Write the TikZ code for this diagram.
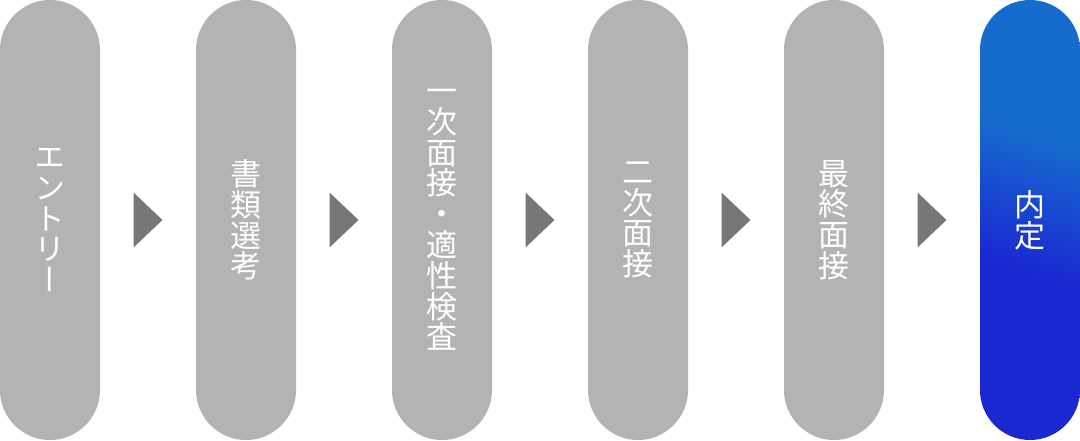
\documentclass[tikz,border=0pt]{standalone}
\usepackage{fontspec}
\newfontfamily\jpv[RawFeature=+vert]{Noto Sans CJK JP}
\usetikzlibrary{calc}
\definecolor{pillgray}{HTML}{B3B3B3}
\definecolor{trigray}{HTML}{777777}
\definecolor{naiteitop}{HTML}{166CCE}
\definecolor{naiteibot}{HTML}{1A28D2}
\pgfdeclareverticalshading{naiteishade}{100bp}{color(0bp)=(naiteibot); color(43bp)=(naiteibot); color(62bp)=(naiteitop); color(100bp)=(naiteitop)}

\begin{document}
\begin{tikzpicture}[x=1pt,y=1pt,
    pill/.style={rounded corners=50pt,minimum width=100pt,minimum height=440pt,inner sep=0pt,
        text=white,align=center,font=\jpv\fontsize{31}{30.8}\selectfont},
    grey/.style={fill=pillgray},
    tri/.style={fill=trigray}]
    \useasboundingbox (0,0) rectangle (1080,440);
    \node[pill,grey] (entry) at (50,220) {エ\\ン\\ト\\リ\\ー};
    \node[pill,grey] (shorui) at (246,220) {書\\類\\選\\考};
    \node[pill,grey] (ichiji) at (442,220) {一\\次\\面\\接\\・\\適\\性\\検\\査};
    \node[pill,grey] (niji) at (638,220) {二\\次\\面\\接};
    \node[pill,grey] (saishu) at (834,220) {最\\終\\面\\接};
    \node[pill,shading=naiteishade,shading angle=-18] (naitei) at (1030,220) {内\\定};

    % triangles between the steps
    \fill[tri] ($(entry.east)!.5!(shorui.west)$) ++(-14.5,-27.5) -- ++(29,27.5) -- ++(-29,27.5) -- cycle;
    \fill[tri] ($(shorui.east)!.5!(ichiji.west)$) ++(-14.5,-27.5) -- ++(29,27.5) -- ++(-29,27.5) -- cycle;
    \fill[tri] ($(ichiji.east)!.5!(niji.west)$) ++(-14.5,-27.5) -- ++(29,27.5) -- ++(-29,27.5) -- cycle;
    \fill[tri] ($(niji.east)!.5!(saishu.west)$) ++(-14.5,-27.5) -- ++(29,27.5) -- ++(-29,27.5) -- cycle;
    \fill[tri] ($(saishu.east)!.5!(naitei.west)$) ++(-14.5,-27.5) -- ++(29,27.5) -- ++(-29,27.5) -- cycle;
\end{tikzpicture}
\end{document}
